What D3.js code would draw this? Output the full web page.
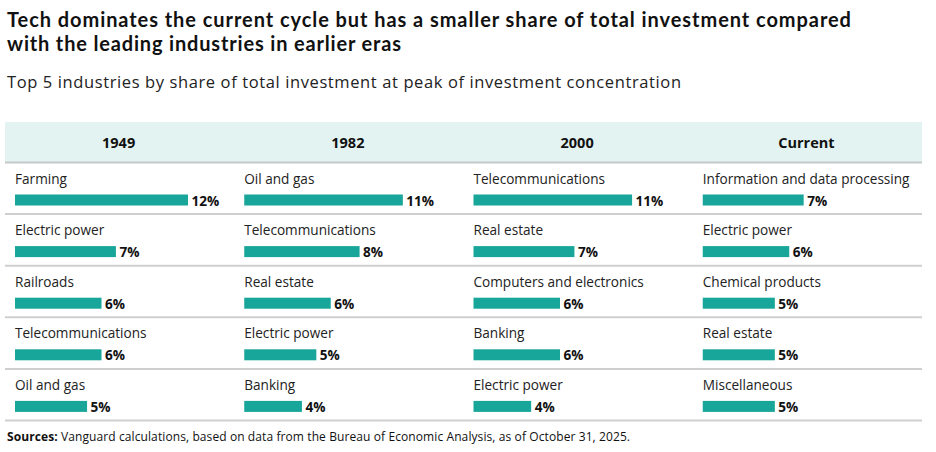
<!DOCTYPE html>
<html>
<head>
<meta charset="utf-8">
<script src="https://cdn.jsdelivr.net/npm/d3@7"></script>
<style>
  html, body { margin: 0; padding: 0; background: #fff; }
  svg { display: block; font-family: "Open Sans", "Lato", sans-serif; }
</style>
</head>
<body>
<svg id="chart" width="936" height="452"></svg>
<script>
const titleLines = [
  "Tech dominates the current cycle but has a smaller share of total investment compared",
  "with the leading industries in earlier eras"
];
const subtitle = "Top 5 industries by share of total investment at peak of investment concentration";
const periods = ["1949", "1982", "2000", "Current"];
const industries1949 = ["Farming", "Electric power", "Railroads", "Telecommunications", "Oil and gas"];
const values1949 = [12, 7, 6, 6, 5];
const industries1982 = ["Oil and gas", "Telecommunications", "Real estate", "Electric power", "Banking"];
const values1982 = [11, 8, 6, 5, 4];
const industries2000 = ["Telecommunications", "Real estate", "Computers and electronics", "Banking", "Electric power"];
const values2000 = [11, 7, 6, 6, 4];
const industriesCurrent = ["Information and data processing", "Electric power", "Chemical products", "Real estate", "Miscellaneous"];
const valuesCurrent = [7, 6, 5, 5, 5];
const sourceLabel = "Sources:";
const sourceText = " Vanguard calculations, based on data from the Bureau of Economic Analysis, as of October 31, 2025.";

const columns = [
  { period: periods[0], names: industries1949, values: values1949 },
  { period: periods[1], names: industries1982, values: values1982 },
  { period: periods[2], names: industries2000, values: values2000 },
  { period: periods[3], names: industriesCurrent, values: valuesCurrent }
];

const svg = d3.select("#chart");

// stretch/shrink a text's tracking so it spans a target width
function fitWidth(sel, target) {
  const node = sel.node();
  const w = node.getComputedTextLength();
  const n = node.textContent.length;
  sel.attr("letter-spacing", ((target - w) / (n - 1)).toFixed(3));
}

// Title (one text element, two lines)
const title = svg.append("text").attr("x", 7)
  .attr("fill", "#111")
  .style("font-family", "Lato, 'Open Sans', sans-serif")
  .style("font-weight", 700).style("font-size", "20px");
const titleTargets = [844, 394];
titleLines.forEach((t, i) => {
  const ts = title.append("tspan").attr("x", 7).attr("y", 27 + i * 24).text(t);
  fitWidth(ts, titleTargets[i]);
});

const sub = svg.append("text").attr("x", 7).attr("y", 88)
  .attr("fill", "#222").style("font-size", "16.5px").text(subtitle);
fitWidth(sub, 674);

// Table geometry
const tableLeft = 5, tableRight = 922;
const colX = d3.scaleBand().domain(periods).range([tableLeft, tableRight]);
const headerTop = 122, headerBottom = 162;
const rowH = 51.6;
const rowY = d3.scaleLinear().domain([0, 5]).range([headerBottom, headerBottom + 5 * rowH]);
const x = d3.scaleLinear().domain([0, 12]).range([0, 173]);

svg.append("rect").attr("x", tableLeft).attr("y", headerTop)
  .attr("width", tableRight - tableLeft).attr("height", headerBottom - headerTop)
  .attr("fill", "#E3F3F2");

svg.selectAll("text.head").data(periods).join("text")
  .attr("class", "head")
  .attr("x", d => colX(d) + colX.bandwidth() / 2 - 1)
  .attr("y", 148)
  .attr("text-anchor", "middle")
  .attr("fill", "#111")
  .style("font-weight", 700).style("font-size", "14.5px")
  .text(d => d);

// row lines
svg.selectAll("line.row").data(d3.range(6)).join("line")
  .attr("class", "row")
  .attr("x1", tableLeft).attr("x2", tableRight)
  .attr("y1", d => rowY(d) + 0.5).attr("y2", d => rowY(d) + 0.5)
  .attr("stroke", d => d === 0 ? "#C4C9C8" : "#CFCFCF").attr("stroke-width", 2);

const col = svg.selectAll("g.col").data(columns).join("g")
  .attr("class", "col")
  .attr("transform", d => `translate(${colX(d.period) + 10},0)`);

const cells = col.selectAll("g.cell")
  .data(d => d.names.map((n, i) => ({ name: n, value: d.values[i], i })))
  .join("g").attr("class", "cell")
  .attr("transform", d => `translate(0,${rowY(d.i)})`);

cells.append("text")
  .attr("x", 0).attr("y", 21.5)
  .attr("fill", "#222").style("font-size", "13.6px")
  .text(d => d.name);

cells.append("rect")
  .attr("x", 0).attr("y", 32.5)
  .attr("width", d => x(d.value)).attr("height", 11)
  .attr("fill", "#18A59A");

cells.append("text")
  .attr("x", d => x(d.value) + 3.5).attr("y", 43.5)
  .attr("fill", "#111").style("font-weight", 700).style("font-size", "13.6px")
  .text(d => d.value + "%");

// Sources
const src = svg.append("text").attr("x", 7).attr("y", 441)
  .attr("fill", "#111").style("font-size", "12px");
src.append("tspan").style("font-weight", 700).text(sourceLabel);
src.append("tspan").text(sourceText);
fitWidth(src, 623);
</script>
</body>
</html>
